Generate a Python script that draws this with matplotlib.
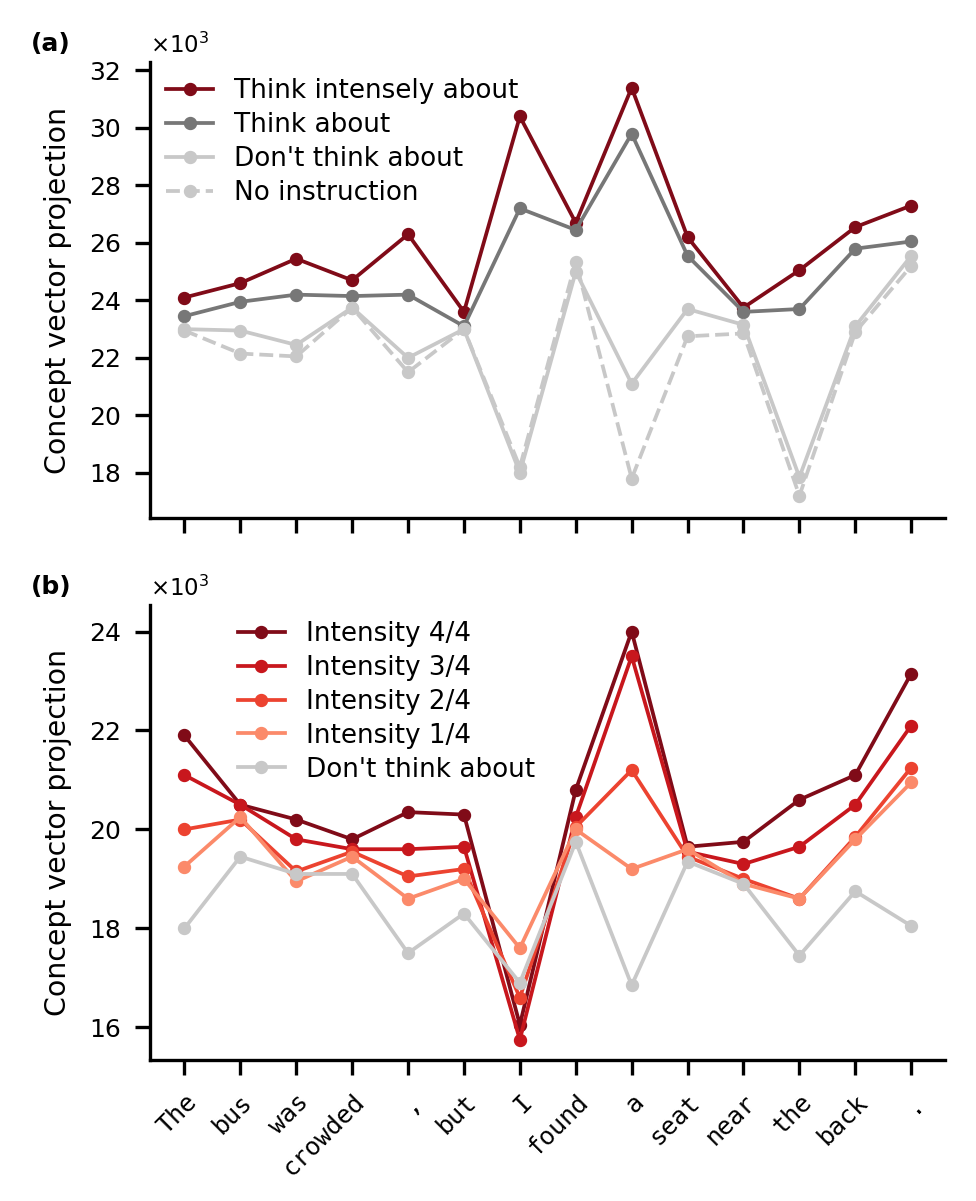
import matplotlib
matplotlib.use('Agg')
import matplotlib.pyplot as plt

tokens = ['The', 'bus', 'was', 'crowded', ',', 'but', 'I', 'found', 'a',
          'seat', 'near', 'the', 'back', '.']

# panel (a), values in thousands
think_intense = [24.1, 24.6, 25.45, 24.7, 26.3, 23.6, 30.4, 26.7, 31.4, 26.2, 23.75, 25.05, 26.55, 27.3]
think_about = [23.45, 23.95, 24.2, 24.15, 24.2, 23.1, 27.2, 26.45, 29.8, 25.55, 23.6, 23.7, 25.8, 26.05]
dont_think_a = [23.0, 22.95, 22.45, 23.75, 22.0, 23.0, 18.0, 25.0, 21.1, 23.7, 23.15, 17.85, 23.1, 25.55]
no_instr = [22.95, 22.15, 22.05, 23.75, 21.5, 23.0, 18.2, 25.35, 17.8, 22.75, 22.85, 17.2, 22.9, 25.2]

# panel (b)
int4 = [21.9, 20.5, 20.2, 19.8, 20.35, 20.3, 16.05, 20.8, 24.0, 19.65, 19.75, 20.6, 21.1, 23.15]
int3 = [21.1, 20.5, 19.8, 19.6, 19.6, 19.65, 15.75, 20.25, 23.5, 19.55, 19.3, 19.65, 20.5, 22.1]
int2 = [20.0, 20.2, 19.15, 19.55, 19.05, 19.2, 16.6, 20.05, 21.2, 19.45, 19.0, 18.6, 19.85, 21.25]
int1 = [19.25, 20.25, 18.95, 19.45, 18.6, 19.0, 17.6, 20.0, 19.2, 19.6, 18.9, 18.6, 19.8, 20.95]
dont_think_b = [18.0, 19.45, 19.1, 19.1, 17.5, 18.3, 16.9, 19.75, 16.85, 19.35, 18.9, 17.45, 18.75, 18.05]

plt.rcParams['font.size'] = 6
plt.rcParams['xtick.labelsize'] = 6
plt.rcParams['ytick.labelsize'] = 6
fig = plt.figure(figsize=(976/300, 1201/300), dpi=300)
ax1 = fig.add_axes([0.154, 0.569, 0.814, 0.379])
ax2 = fig.add_axes([0.154, 0.117, 0.814, 0.379])
x = range(len(tokens))
kw = dict(marker='o', markersize=2.2, linewidth=0.9)

ax1.plot(x, think_intense, color='#800b18', label='Think intensely about', **kw)
ax1.plot(x, think_about, color='#777777', label='Think about', **kw)
ax1.plot(x, dont_think_a, color='#c8c8c8', label="Don't think about", **kw)
ax1.plot(x, no_instr, color='#c8c8c8', linestyle='--', label='No instruction', **kw)
ax1.set_ylim(16.44, 32.28)
ax1.set_yticks(range(18, 33, 2))
ax1.legend(frameon=False, loc='upper left', fontsize=6.3, handlelength=1.8,
           labelspacing=0.3, borderaxespad=0.2)

ax2.plot(x, int4, color='#800b18', label='Intensity 4/4', **kw)
ax2.plot(x, int3, color='#c8171d', label='Intensity 3/4', **kw)
ax2.plot(x, int2, color='#ec4330', label='Intensity 2/4', **kw)
ax2.plot(x, int1, color='#fb8a6a', label='Intensity 1/4', **kw)
ax2.plot(x, dont_think_b, color='#c8c8c8', label="Don't think about", **kw)
ax2.set_ylim(15.33, 24.53)
ax2.set_yticks(range(16, 25, 2))
ax2.legend(frameon=False, loc='upper left', bbox_to_anchor=(0.09, 1.0), fontsize=6.3,
           handlelength=1.8, labelspacing=0.3, borderaxespad=0.2)

for ax, lab in [(ax1, '(a)'), (ax2, '(b)')]:
    ax.set_xlim(-0.61, 13.6)
    ax.set_xticks(list(x))
    ax.spines['right'].set_visible(False)
    ax.spines['top'].set_visible(False)
    ax.set_ylabel('Concept vector projection', fontsize=6.8)
    ax.text(0.0, 1.01, r'$\times10^3$', transform=ax.transAxes, fontsize=5.5, va='bottom')
    ax.text(-0.15, 1.04, lab, transform=ax.transAxes, fontsize=6, fontweight='bold', va='center')
ax1.set_xticklabels([])
ax2.set_xticklabels(tokens, rotation=45, ha='right', rotation_mode='anchor',
                    family='monospace', fontsize=6)

fig.savefig('out.png', dpi=300)
